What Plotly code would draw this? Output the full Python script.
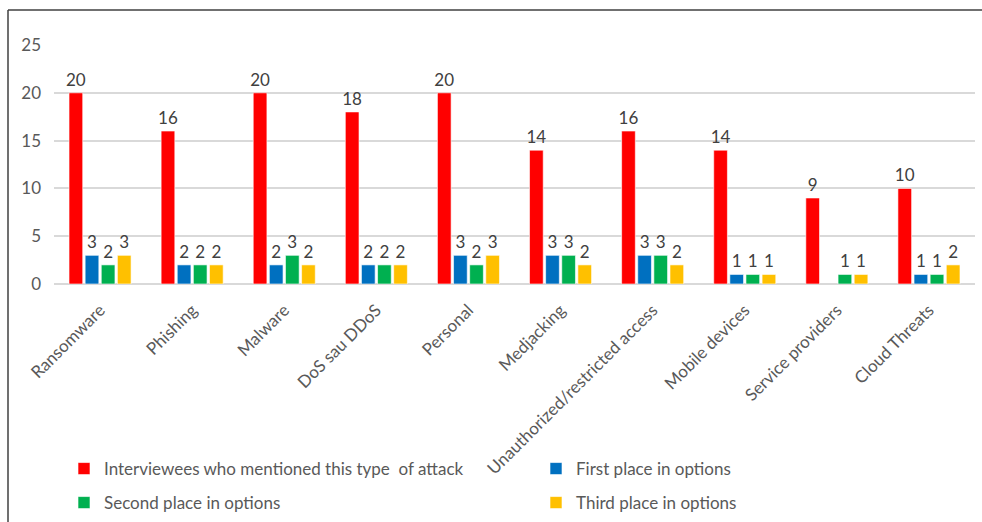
import plotly.graph_objects as go

categories = ["Ransomware", "Phishing", "Malware", "DoS sau DDoS", "Personal",
              "Medjacking", "Unauthorized/restricted access", "Mobile devices",
              "Service providers", "Cloud Threats"]
mentioned = [20, 16, 20, 18, 20, 14, 16, 14, 9, 10]
first_place = [3, 2, 2, 2, 3, 3, 3, 1, None, 1]
second_place = [2, 2, 3, 2, 2, 3, 3, 1, 1, 1]
third_place = [3, 2, 2, 2, 3, 2, 2, 1, 1, 2]

series = [
    ("Interviewees who mentioned this type  of attack", mentioned, "#FF0000", "legend"),
    ("First place in options", first_place, "#0070C0", "legend2"),
    ("Second place in options", second_place, "#00B050", "legend3"),
    ("Third place in options", third_place, "#FFC000", "legend4"),
]

FONT = "Lato"
fig = go.Figure()
for name, vals, color, lg in series:
    fig.add_trace(go.Bar(
        x=categories, y=vals, name=name,
        marker=dict(color=color, line=dict(color="rgba(255,255,255,0.6)", width=1)),
        text=[("" if v is None else str(v)) for v in vals],
        textposition="outside", cliponaxis=False, constraintext="none",
        textfont=dict(family=FONT, size=17, color="#404040"),
        legend=lg,
    ))

W, H = 982, 522
L, R, T, B = 54, 7, 45, 238
pw, ph = W - L - R, H - T - B

def px_x(px):
    return (px - L) / pw

def px_y(py):
    return (H - B - py) / ph

def leg(xpx, ypx):
    return dict(orientation="h", xref="container", yref="container",
                x=xpx / W, y=1 - ypx / H, xanchor="left", yanchor="top",
                font=dict(size=17, color="#595959"), bgcolor="rgba(0,0,0,0)")

fig.update_layout(
    width=W, height=H,
    margin=dict(l=L, r=R, t=T, b=B, autoexpand=False),
    paper_bgcolor="white", plot_bgcolor="white",
    barmode="group", bargap=0.30, bargroupgap=0.15,
    font=dict(family=FONT, size=16, color="#595959"),
    xaxis=dict(tickangle=-45, tickfont=dict(size=17, color="#595959"),
               showgrid=False, showline=False, ticks="", automargin=False,
               ticklabelstandoff=12),
    yaxis=dict(range=[0, 25], dtick=5, showgrid=True, gridcolor="#D9D9D9",
               gridwidth=1.5, zeroline=True, zerolinecolor="#D9D9D9",
               zerolinewidth=1.5, showline=False, ticks="",
               ticklabelstandoff=12, automargin=False,
               tickfont=dict(size=17, color="#595959")),
    legend=leg(64, 451),
    legend2=leg(536, 451),
    legend3=leg(64, 485),
    legend4=leg(536, 485),
    showlegend=True,
    shapes=[
        dict(type="line", xref="paper", yref="paper", x0=px_x(8), x1=px_x(8),
             y0=px_y(10), y1=px_y(530), line=dict(color="#404040", width=1.5)),
        dict(type="line", xref="paper", yref="paper", x0=px_x(8), x1=px_x(990),
             y0=px_y(10), y1=px_y(10), line=dict(color="#404040", width=1.5)),
    ],
)

fig.write_html("out.html")
